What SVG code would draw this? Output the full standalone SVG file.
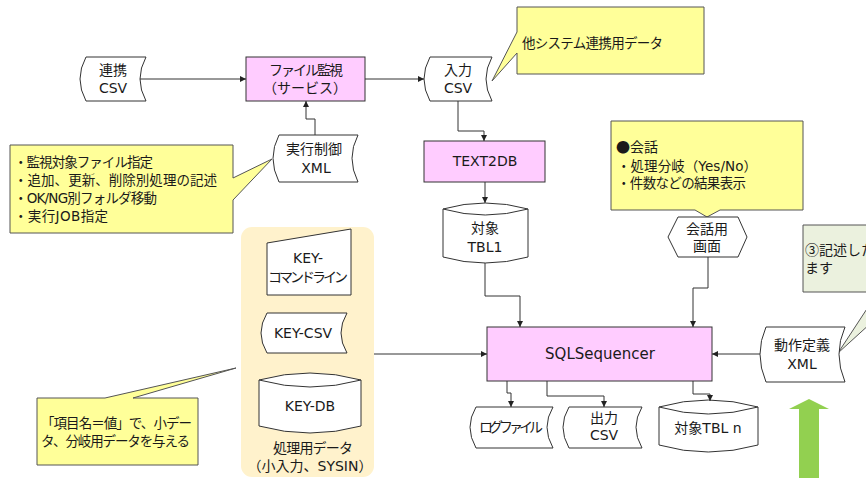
<svg xmlns="http://www.w3.org/2000/svg" width="866" height="478" viewBox="0 0 866 478">
<style>
text{font-family:"DejaVu Sans","Noto Sans CJK JP",sans-serif;font-size:14px;fill:#1a1a1a;text-anchor:middle}
.t{text-anchor:start;font-size:13.5px}
.j{font-family:"Noto Sans CJK JP",sans-serif}
.sh{fill:#fff;stroke:#333;stroke-width:1}
.proc{fill:#ffccff;stroke:#333;stroke-width:1}
.cy{fill:#ffff99;stroke:#555;stroke-width:1}
.cg{fill:#ebf1de;stroke:#555;stroke-width:1}
.ln{fill:none;stroke:#333;stroke-width:1;marker-end:url(#ah)}
</style>
<defs>
<marker id="ah" markerUnits="userSpaceOnUse" markerWidth="7" markerHeight="6" refX="6" refY="3" orient="auto">
<path d="M0,0 L6,3 L0,6 Z" fill="#222"/>
</marker>
</defs>
<rect width="866" height="478" fill="#fff"/>

<g id="group-data">
<rect x="241" y="227" width="133" height="250" rx="11" fill="#fff2cc"/>
<text x="313" y="453" textLength="80">処理用データ</text>
<text x="310" y="471">（小入力、SYSIN）</text>
</g>

<g id="renkei-csv">
<path class="sh" d="M86,57 H146 Q134,79 146,101 H86 Q74,79 86,57 Z"/>
<text x="113" y="75">連携</text>
<text x="113" y="93">CSV</text>
</g>

<g id="file-kanshi">
<rect class="proc" x="246" y="57" width="119" height="44"/>
<text x="306" y="75" textLength="74">ファイル監視</text>
<text x="305" y="93">（サービス）</text>
</g>

<g id="nyuryoku-csv">
<path class="sh" d="M430,57 H492 Q480,79 492,101 H430 Q418,79 430,57 Z"/>
<text x="458" y="75">入力</text>
<text x="458" y="93">CSV</text>
</g>

<g id="callout-other">
<path class="cy" d="M517,7 H704 V74 H517 V53 L492,81 L517,32 Z"/>
<text class="t" x="522" y="48" textLength="141">他システム連携用データ</text>
</g>

<g id="text2db">
<rect class="proc" x="424" y="141" width="121" height="41"/>
<text x="485" y="166">TEXT2DB</text>
</g>

<g id="tbl1">
<path class="sh" d="M443,209 Q485,197 528,209 V257 Q485,269 443,257 Z"/>
<path class="sh" fill="none" d="M443,209 Q485,221 528,209"/>
<text x="485" y="233">対象</text>
<text x="485" y="252">TBL1</text>
</g>

<g id="jikko-xml">
<path class="sh" d="M279,135 H358 Q346,158 358,182 H279 Q267,158 279,135 Z"/>
<text x="314" y="154">実行制御</text>
<text x="316" y="173">XML</text>
</g>

<g id="callout-left">
<path class="cy" d="M10,145 H233 V178 L272,159 L233,200 V233 H10 Z"/>
<text class="t" x="14" y="167" textLength="139">・監視対象ファイル指定</text>
<text class="t" x="14" y="185" textLength="203">・追加、更新、削除別処理の記述</text>
<text class="t" x="14" y="203" textLength="143">・OK/NG別フォルダ移動</text>
<text class="t" x="14" y="221" textLength="94">・実行JOB指定</text>
</g>

<g id="key-cmd">
<path class="sh" d="M267,243 L351,229 V295 H267 Z"/>
<text x="308" y="263">KEY-</text>
<text x="308" y="282" textLength="80">コマンドライン</text>
</g>

<g id="key-csv">
<path class="sh" d="M267,313 H347 Q335,333 347,353 H267 Q255,333 267,313 Z"/>
<text x="303" y="338">KEY-CSV</text>
</g>

<g id="key-db">
<path class="sh" d="M259,380 Q310,366 361,380 V426 Q310,440 259,426 Z"/>
<path class="sh" fill="none" d="M259,380 Q310,394 361,380"/>
<text x="310" y="411">KEY-DB</text>
</g>

<g id="callout-bottom-left">
<path class="cy" d="M37,398 H105 L236,368 L133,398 H198 V465 H37 Z"/>
<text class="t" x="41" y="428" textLength="151">「項目名＝値」で、小デー</text>
<text class="t" x="41" y="446" textLength="149">タ、分岐用データを与える</text>
</g>

<g id="sqlsequencer">
<rect class="proc" x="487" y="327" width="225" height="54"/>
<text x="600" y="359" style="font-size:15px">SQLSequencer</text>
</g>

<g id="callout-kaiwa">
<path class="cy" d="M611,121 H803 V210 H720 L707,217 L695,210 H611 Z"/>
<text class="t j" x="616" y="152" style="font-size:14px">●会話</text>
<text class="t" x="617" y="171" textLength="140">・処理分岐（Yes/No）</text>
<text class="t" x="617" y="188" textLength="129">・件数などの結果表示</text>
</g>

<g id="kaiwa-gamen">
<path class="sh" d="M678,217 H738 L747,237 L738,257 H678 L668,237 Z"/>
<text x="707" y="234">会話用</text>
<text x="707" y="251">画面</text>
</g>

<g id="callout-green">
<path class="cg" d="M803,225 H920 V292 H905 L838,353 L878,292 H803 Z"/>
<text class="t j" x="805" y="255" style="font-size:14px">③記述した</text>
<text class="t j" x="805" y="273" style="font-size:14px">ます</text>
</g>

<g id="dousa-xml">
<path class="sh" d="M766,327 H845 Q833,354 845,382 H766 Q754,354 766,327 Z"/>
<text x="802" y="350">動作定義</text>
<text x="802" y="369">XML</text>
</g>

<g id="log-file">
<path class="sh" d="M476,407 H553 Q541,427 553,448 H476 Q464,427 476,407 Z"/>
<text x="511" y="432" textLength="64">ログファイル</text>
</g>

<g id="out-csv">
<path class="sh" d="M569,407 H642 Q630,427 642,448 H569 Q557,427 569,407 Z"/>
<text x="604" y="423">出力</text>
<text x="604" y="440">CSV</text>
</g>

<g id="tbl-n">
<path class="sh" d="M659,407 Q708,393 758,407 V445 Q708,459 659,445 Z"/>
<path class="sh" fill="none" d="M659,407 Q708,421 758,407"/>
<text x="708" y="433">対象TBL n</text>
</g>

<g id="green-arrow">
<path d="M809,399 L829,409 H819 V478 H799 V409 H789 Z" fill="#92d050"/>
</g>

<g id="connectors">
<path class="ln" d="M140,79 H246"/>
<path class="ln" d="M365,79 H424"/>
<path class="ln" d="M458,101 V131 H484 V141"/>
<path class="ln" d="M485,182 V203"/>
<path class="ln" d="M315,135 V119 H306 V101"/>
<path class="ln" d="M485,263 V296 H520 V327"/>
<path class="ln" d="M374,354 H487"/>
<path class="ln" d="M708,257 V288 H693 V327"/>
<path class="ln" d="M760,354 H712"/>
<path class="ln" d="M507,381 V393 H511 V407"/>
<path class="ln" d="M547,381 V396 H604 V407"/>
<path class="ln" d="M693,381 V394 H710 V401"/>
</g>
</svg>
